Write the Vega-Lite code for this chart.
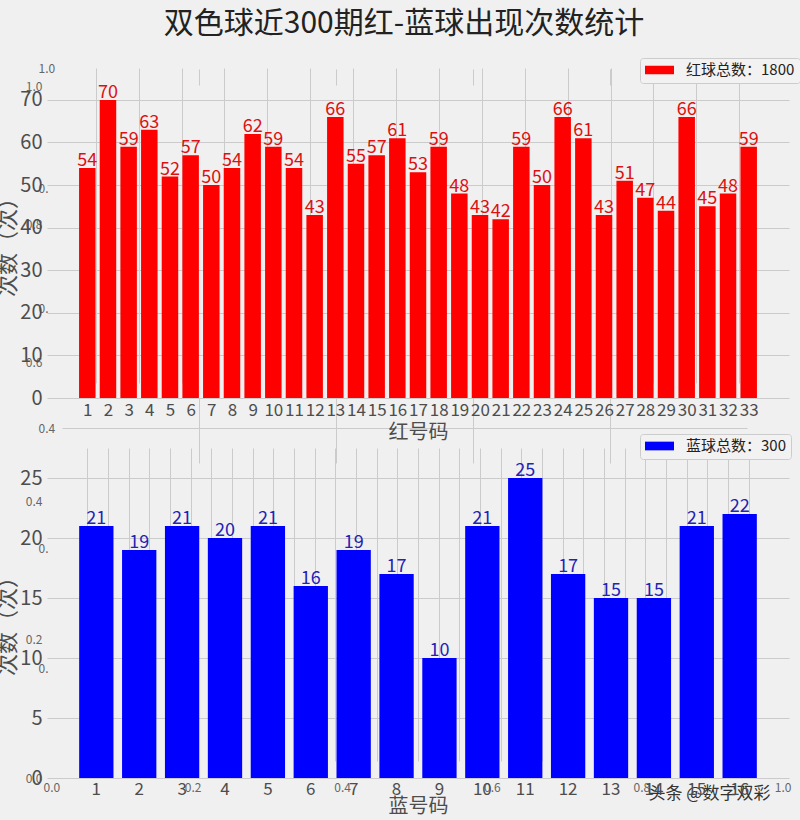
{
  "$schema": "https://vega.github.io/schema/vega-lite/v6.json",
  "description": "双色球近300期红-蓝球出现次数统计",
  "autosize": "none",
  "width": 744,
  "height": 710,
  "padding": {"left": 46, "top": 68, "right": 10, "bottom": 42},
  "title": {
    "text": "双色球近300期红-蓝球出现次数统计",
    "fontSize": 30,
    "fontWeight": "normal",
    "color": "#222222",
    "anchor": "middle",
    "frame": "group",
    "offset": 19,
    "dx": -14
  },
  "datasets": {
    "red": [
      {"ball": 1, "count": 54}, {"ball": 2, "count": 70}, {"ball": 3, "count": 59},
      {"ball": 4, "count": 63}, {"ball": 5, "count": 52}, {"ball": 6, "count": 57},
      {"ball": 7, "count": 50}, {"ball": 8, "count": 54}, {"ball": 9, "count": 62},
      {"ball": 10, "count": 59}, {"ball": 11, "count": 54}, {"ball": 12, "count": 43},
      {"ball": 13, "count": 66}, {"ball": 14, "count": 55}, {"ball": 15, "count": 57},
      {"ball": 16, "count": 61}, {"ball": 17, "count": 53}, {"ball": 18, "count": 59},
      {"ball": 19, "count": 48}, {"ball": 20, "count": 43}, {"ball": 21, "count": 42},
      {"ball": 22, "count": 59}, {"ball": 23, "count": 50}, {"ball": 24, "count": 66},
      {"ball": 25, "count": 61}, {"ball": 26, "count": 43}, {"ball": 27, "count": 51},
      {"ball": 28, "count": 47}, {"ball": 29, "count": 44}, {"ball": 30, "count": 66},
      {"ball": 31, "count": 45}, {"ball": 32, "count": 48}, {"ball": 33, "count": 59}
    ],
    "blue": [
      {"ball": 1, "count": 21}, {"ball": 2, "count": 19}, {"ball": 3, "count": 21},
      {"ball": 4, "count": 20}, {"ball": 5, "count": 21}, {"ball": 6, "count": 16},
      {"ball": 7, "count": 19}, {"ball": 8, "count": 17}, {"ball": 9, "count": 10},
      {"ball": 10, "count": 21}, {"ball": 11, "count": 25}, {"ball": 12, "count": 17},
      {"ball": 13, "count": 15}, {"ball": 14, "count": 15}, {"ball": 15, "count": 21},
      {"ball": 16, "count": 22}
    ],
    "unit": [{"v": 0}, {"v": 1}]
  },
  "layer": [
    {
      "data": {"name": "unit"},
      "mark": {"type": "point", "opacity": 0},
      "encoding": {
        "x": {
          "field": "v", "type": "quantitative",
          "scale": {"domain": [0, 1], "range": [-3, 745], "nice": false, "zero": false},
          "axis": {
            "orient": "bottom", "values": [0, 0.2, 0.4, 0.6, 0.8, 1], "format": ".1f",
            "grid": false, "labelFontSize": 12, "labelColor": "#666666", "labelPadding": 4,
            "title": "头条 @数字双彩", "titleX": 663, "titleY": 15,
            "titleBaseline": "middle", "titleAlign": "center",
            "titleFontSize": 17, "titleColor": "#333333"
          }
        },
        "y": {
          "field": "v", "type": "quantitative",
          "scale": {"domain": [0, 1], "range": [710, 18], "nice": false, "zero": false},
          "axis": {
            "orient": "left", "values": [0, 0.2, 0.4, 0.6, 0.8, 1], "format": ".1f",
            "grid": false, "labelFontSize": 12, "labelColor": "#666666", "labelPadding": 4,
            "title": null
          }
        }
      }
    },
    {
      "data": {"name": "unit"},
      "mark": {"type": "point", "opacity": 0},
      "encoding": {
        "x": {
          "field": "v", "type": "quantitative",
          "scale": {"domain": [0, 1], "range": [16, 701], "nice": false, "zero": false},
          "axis": null
        },
        "y": {
          "field": "v", "type": "quantitative",
          "scale": {"domain": [0, 1], "range": [600, 0], "nice": false, "zero": false},
          "axis": {
            "orient": "left", "values": [0, 0.2, 0.4, 0.6, 0.8, 1], "format": ".1f",
            "grid": true,
            "gridOpacity": {"condition": {"test": "datum.value > 0.39 && datum.value < 0.41", "value": 1}, "value": 0},
            "labelAlign": "left", "labelPadding": 8, "labelFontSize": 12, "labelColor": "#666666",
            "labelExpr": "datum.value > 0.99 || (datum.value > 0.39 && datum.value < 0.41) ? datum.label : '0.'",
            "title": null
          }
        }
      }
    },
    {
      "data": {"name": "unit"},
      "mark": {"type": "point", "opacity": 0},
      "encoding": {
        "x": {
          "field": "v", "type": "quantitative",
          "scale": {"domain": [0, 1], "range": [16, 701], "nice": false, "zero": false},
          "axis": {"orient": "top", "values": [0.2, 0.4, 0.6, 0.8], "grid": true, "labels": false, "title": null}
        },
        "y": {
          "field": "v", "type": "quantitative",
          "scale": {"domain": [0, 1], "range": [17, 1], "nice": false, "zero": false},
          "axis": null
        }
      }
    },
    {
      "data": {"name": "unit"},
      "mark": {"type": "point", "opacity": 0},
      "encoding": {
        "x": {
          "field": "v", "type": "quantitative",
          "scale": {"domain": [0, 1], "range": [16, 701], "nice": false, "zero": false},
          "axis": {"orient": "top", "values": [0.2, 0.4, 0.6, 0.8], "grid": true, "labels": false, "title": null}
        },
        "y": {
          "field": "v", "type": "quantitative",
          "scale": {"domain": [0, 1], "range": [395, 330], "nice": false, "zero": false},
          "axis": null
        }
      }
    },
    {
      "data": {"name": "red"},
      "encoding": {
        "x": {
          "field": "ball", "type": "quantitative",
          "scale": {"domain": [-0.95, 34.95], "range": [1, 743], "nice": false, "zero": false, "padding": 0},
          "axis": {
            "orient": "bottom", "offset": -380, "grid": true, "format": "d",
            "values": [1, 2, 3, 4, 5, 6, 7, 8, 9, 10, 11, 12, 13, 14, 15, 16, 17, 18, 19, 20, 21, 22, 23, 24, 25, 26, 27, 28, 29, 30, 31, 32, 33],
            "labelAngle": 0, "labelOverlap": false, "labelFlush": false, "labelFontSize": 17, "labelPadding": 4,
            "title": "红号码", "titleFontSize": 20, "titleY": 34, "titleBaseline": "middle"
          }
        },
        "y": {
          "field": "count", "type": "quantitative",
          "scale": {"domain": [0, 73.5], "range": [330, 17], "nice": false},
          "axis": {
            "orient": "left", "values": [0, 10, 20, 30, 40, 50, 60, 70], "grid": true,
            "labelFontSize": 20, "labelPadding": 4,
            "title": "次数（次）", "titleFontSize": 22, "titleX": -39, "titleBaseline": "middle"
          }
        }
      },
      "layer": [
        {
          "mark": {"type": "bar", "width": 16.5},
          "encoding": {
            "color": {
              "datum": "红球总数：1800",
              "scale": {"range": ["#ff0000"]},
              "legend": {
                "title": null, "orient": "none", "legendX": 594, "legendY": -10,
                "padding": 5, "fillColor": "#f2f2f2", "strokeColor": "#cccccc", "cornerRadius": 3,
                "symbolType": "M-1,-0.3H1V0.3H-1Z", "symbolSize": 841, "symbolStrokeWidth": 0,
                "symbolOpacity": 1, "clipHeight": 14, "labelOffset": 12,
                "labelFontSize": 15, "labelColor": "#222222"
              }
            }
          }
        },
        {
          "mark": {"type": "text", "baseline": "alphabetic", "dy": -2, "fontSize": 18, "color": "#dd1111"},
          "encoding": {"text": {"field": "count", "type": "quantitative"}}
        }
      ]
    },
    {
      "data": {"name": "blue"},
      "encoding": {
        "x": {
          "field": "ball", "type": "ordinal",
          "scale": {"type": "band", "range": [1, 743], "paddingInner": 0.2, "paddingOuter": 0.75},
          "axis": {
            "orient": "bottom", "grid": true, "bandPosition": 0.5,
            "labelAngle": 0, "labelOverlap": false, "labelFontSize": 17, "labelPadding": 3,
            "title": "蓝号码", "titleFontSize": 20, "titleY": 28, "titleBaseline": "middle"
          }
        },
        "y": {
          "field": "count", "type": "quantitative",
          "scale": {"domain": [0, 26.25], "range": [710, 395], "nice": false},
          "axis": {
            "orient": "left", "values": [0, 5, 10, 15, 20, 25], "grid": true,
            "labelFontSize": 20, "labelPadding": 4,
            "title": "次数（次）", "titleFontSize": 22, "titleX": -39, "titleBaseline": "middle"
          }
        }
      },
      "layer": [
        {
          "mark": {"type": "bar"},
          "encoding": {
            "color": {
              "datum": "蓝球总数：300",
              "scale": {"range": ["#0000ff"]},
              "legend": {
                "title": null, "orient": "none", "legendX": 594, "legendY": 366,
                "padding": 5, "fillColor": "#f2f2f2", "strokeColor": "#cccccc", "cornerRadius": 3,
                "symbolType": "M-1,-0.3H1V0.3H-1Z", "symbolSize": 841, "symbolStrokeWidth": 0,
                "symbolOpacity": 1, "clipHeight": 14, "labelOffset": 12,
                "labelFontSize": 15, "labelColor": "#222222"
              }
            }
          }
        },
        {
          "mark": {"type": "text", "baseline": "alphabetic", "dy": -2, "fontSize": 18, "color": "#2323b5"},
          "encoding": {"text": {"field": "count", "type": "quantitative"}}
        }
      ]
    }
  ],
  "resolve": {
    "scale": {"x": "independent", "y": "independent", "color": "independent"},
    "axis": {"x": "independent", "y": "independent"},
    "legend": {"color": "independent"}
  },
  "config": {
    "background": "#f0f0f0",
    "font": "Noto Sans CJK SC",
    "view": {"stroke": null},
    "axis": {
      "domain": false,
      "ticks": false,
      "tickSize": 0,
      "zindex": 0,
      "gridColor": "#cbcbcb",
      "gridWidth": 1,
      "labelColor": "#4d4d4d",
      "titleColor": "#4d4d4d",
      "titleFontWeight": "normal"
    },
    "legend": {"labelFont": "Noto Sans CJK SC"}
  }
}
